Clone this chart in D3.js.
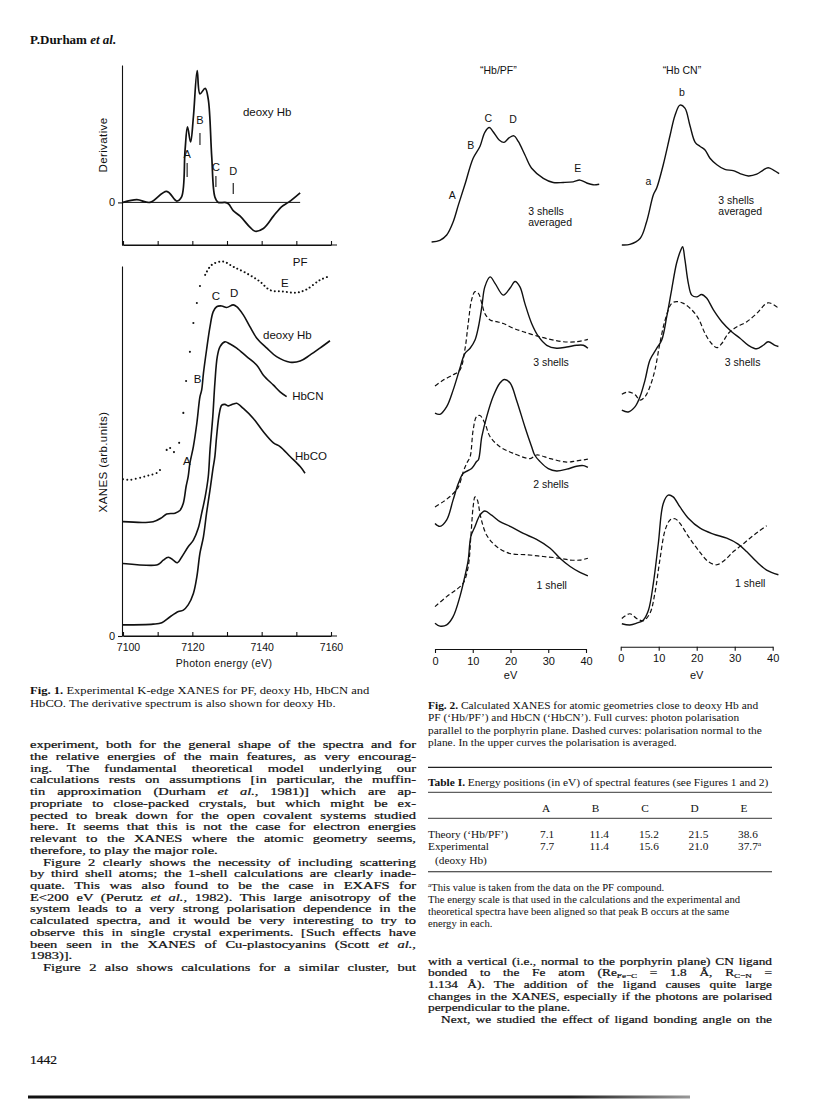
<!DOCTYPE html>
<html>
<head>
<meta charset="utf-8">
<script src="https://cdn.jsdelivr.net/npm/d3@7"></script>
<style>
  body { margin: 0; background: #fff; }
  svg { display: block; }
  .serif { font-family: "Liberation Serif", "Times New Roman", serif; fill: #111; }
  .heavy .serif { stroke: #111; stroke-width: 0.22px; }
  .sans { font-family: "Liberation Sans", Arial, sans-serif; fill: #111; }
</style>
</head>
<body>
<svg id="page" width="816" height="1113"></svg>
<script>
// ---- Fig. 1 data (photon energy in eV, arbitrary units) ----
var derivDeoxy = [[7100,0],[7104,0.02],[7107.8,0],[7112.6,0.08],[7115.5,0.01],[7116.9,0.04],
  [7117.9,0.38],[7118.6,0.55],[7119.5,0.44],[7120.3,0.62],[7121.4,0.96],[7122.2,0.79],
  [7123.7,0.83],[7124.6,0.75],[7125.6,0.33],[7126.5,0.04],[7127.5,0],[7129.4,0],
  [7130.4,-0.01],[7131.8,-0.06],[7133.8,-0.10],[7136.6,-0.18],[7138.1,-0.21],[7140.5,-0.19],
  [7143.4,-0.10],[7145.8,-0.03],[7147.7,0],[7151.1,0.07]];

var derivMarks = [
  {t:"A", e:7118.5, lo:0.185, hi:0.287, lab:0.323},
  {t:"B", e:7122.2, lo:0.418, hi:0.506, lab:0.572},
  {t:"C", e:7126.8, lo:0.113, hi:0.193, lab:0.232},
  {t:"D", e:7131.8, lo:0.061, hi:0.141, lab:0.196}];

var xanesDeoxy = [[7100,0.309],[7108.7,0.309],[7111.2,0.320],[7112.6,0.330],[7115.0,0.332],
  [7116.4,0.339],[7117.4,0.359],[7118.2,0.404],[7118.8,0.431],[7119.3,0.467],[7120.3,0.512],
  [7121.3,0.575],[7122.2,0.647],[7122.7,0.665],[7123.2,0.710],[7124.1,0.773],[7125.1,0.836],
  [7126.0,0.876],[7127.0,0.890],[7128.5,0.892],[7129.9,0.888],[7131.8,0.895],[7132.8,0.890],
  [7134.7,0.868],[7136.6,0.836],[7138.6,0.805],[7141.5,0.778],[7144.3,0.755],[7148.2,0.740],
  [7151.1,0.743],[7153.9,0.759],[7156.8,0.778],[7159.7,0.798]];

var xanesHbCN = [[7100,0.196],[7109.7,0.192],[7110.7,0.197],[7111.6,0.205],[7113.1,0.213],
  [7114.5,0.205],[7115.7,0.198],[7116.9,0.213],[7118.8,0.241],[7120.3,0.259],[7121.7,0.291],
  [7122.7,0.332],[7123.7,0.376],[7124.6,0.431],[7125.1,0.503],[7125.9,0.593],[7126.5,0.683],
  [7127.2,0.755],[7128.0,0.782],[7129.4,0.795],[7130.9,0.789],[7132.8,0.778],[7135.7,0.755],
  [7138.6,0.732],[7140.5,0.705],[7143.4,0.678],[7145.3,0.660],[7147.2,0.647]];

var xanesHbCO = [[7100,0.030],[7108.7,0.032],[7111.2,0.036],[7113.6,0.052],[7116.0,0.066],
  [7117.4,0.070],[7118.8,0.084],[7120.3,0.115],[7121.3,0.160],[7122.2,0.224],[7123.2,0.268],
  [7124.1,0.332],[7125.1,0.395],[7125.9,0.449],[7126.5,0.485],[7127.0,0.539],[7127.8,0.602],
  [7128.5,0.624],[7129.4,0.626],[7130.4,0.622],[7131.8,0.627],[7132.8,0.629],[7134.7,0.615],
  [7137.6,0.588],[7140.5,0.552],[7143.4,0.522],[7145.3,0.512],[7148.2,0.485],[7151.1,0.458],
  [7152.5,0.440]];

var pfLow = [[7100,0.424],[7102,0.422],[7105.8,0.430],[7107.8,0.435],[7109.8,0.441],[7110.7,0.449]];
var pfEdge = [[7112.6,0.503],[7113.6,0.508],[7114.7,0.497],[7116.2,0.522],[7117.4,0.603],
  [7118.2,0.689],[7119.3,0.768],[7120.3,0.846],[7121.3,0.900],[7122.2,0.946]];
var pfTop = [[7123.7,0.976],[7125.6,1.003],[7128.9,1.012],[7131.8,0.998],[7135.7,0.980],
  [7139.5,0.958],[7142.4,0.935],[7146.2,0.931],[7150.1,0.928],[7153.0,0.937],[7156.8,0.962],
  [7159.7,0.973]];

var xanesLabels = [
  {t:"PF", e:7149.0, v:1.0, a:"start"}, {t:"E", e:7146.7, v:0.943, a:"middle"},
  {t:"C", e:7126.8, v:0.908, a:"middle"}, {t:"D", e:7132.1, v:0.915, a:"middle"},
  {t:"B", e:7121.5, v:0.684, a:"middle"}, {t:"A", e:7118.4, v:0.461, a:"middle"},
  {t:"deoxy Hb", e:7140.4, v:0.803, a:"start"}, {t:"HbCN", e:7148.8, v:0.638, a:"start"},
  {t:"HbCO", e:7149.6, v:0.477, a:"start"}];

var fig1Ticks = [7100, 7110, 7120, 7130, 7140, 7150, 7160];
var fig1TickLabels = [7100, 7120, 7140, 7160];

// ---- Fig. 2 data (eV, arbitrary intensity) ----
var pfAvg = [[-0.9,68.3],[1.3,68.6],[3.1,69.5],[4.8,71.7],[6.2,74.6],[7.9,78.0],[10.1,82.5],
  [11.9,84.5],[13.2,86.9],[14.4,87.7],[15.4,87.0],[17.0,85.6],[18.3,85.2],[19.7,86.0],
  [20.9,86.3],[22.1,85.3],[23.8,83.1],[25.6,80.8],[28.7,79.1],[31.3,78.4],[34.0,78.4],
  [36.6,78.5],[38.4,78.8],[40.2,78.3],[41.9,78.0],[43.5,78.1]];
var cnAvg = [[0.3,67.8],[2.4,67.9],[5.1,68.9],[6.8,71.7],[8.6,76.3],[9.5,77.5],[11.2,81.4],
  [13.0,86.4],[14.3,89.8],[15.6,91.5],[16.9,91.0],[18.2,88.1],[19.6,85.2],[20.9,84.5],
  [22.2,83.9],[23.5,82.5],[25.3,81.4],[27.4,80.6],[29.6,80.4],[31.4,79.9],[33.6,79.5],
  [35.8,79.8],[37.5,80.5],[38.8,80.9],[40.2,80.5],[41.7,79.9]];
var pf3Par = [[0,39.3],[1.3,39.1],[3.1,40.4],[4.8,43.2],[6.6,46.9],[7.9,49.4],[9.3,50.3],
  [10.6,51.7],[11.5,53.9],[12.4,57.3],[13.2,60.7],[14.6,62.4],[15.9,61.3],[18.1,59.3],
  [19.9,60.5],[21.2,61.6],[22.5,60.7],[23.8,57.9],[25.6,54.5],[27.4,52.3],[29.6,50.8],
  [32.2,50.3],[34.9,50.5],[37.5,50.8],[39.3,50.8],[40.5,50.3]];
var pf3Norm = [[0,43.9],[2.2,44.9],[4.8,45.8],[6.6,46.6],[7.9,50.0],[8.8,54.5],[9.7,58.5],
  [10.6,59.9],[11.5,59.6],[12.4,57.9],[13.2,56.2],[14.6,55.1],[16.3,54.8],[18.1,54.5],
  [20.7,53.7],[23.4,53.1],[26.9,52.4],[30.5,51.8],[34.0,51.4],[37.5,51.4],[40.5,51.8]];
var cn3Par = [[0.3,39.8],[2.0,39.5],[3.8,40.4],[5.1,42.1],[6.4,44.9],[7.7,48.3],[9.5,50.3],
  [10.8,51.7],[12.1,55.6],[13.4,60.2],[14.7,64.7],[15.8,66.9],[16.3,67.5],[16.9,65.3],
  [17.8,61.3],[18.7,59.3],[20.0,59.0],[21.3,59.4],[22.6,58.8],[24.4,56.8],[26.6,54.8],
  [29.2,53.1],[31.4,52.0],[33.6,50.8],[35.8,50.2],[37.5,50.8],[38.8,51.4],[40.6,50.8],
  [41.5,50.6]];
var cn3Norm = [[0.3,42.5],[2.0,42.9],[3.8,42.4],[5.1,41.5],[6.4,42.1],[7.7,43.8],[9.0,46.6],
  [10.3,51.1],[11.7,55.1],[13.4,57.9],[14.7,58.2],[16.5,57.9],[18.7,56.8],[20.4,55.4],
  [22.2,52.8],[23.9,51.1],[25.3,50.4],[26.6,51.1],[28.3,52.8],[30.5,53.9],[33.2,54.8],
  [35.8,56.2],[38.8,58.0],[41.5,57.1]];
var pf2Par = [[0,20.6],[1.3,20.1],[3.1,21.2],[4.8,24.6],[6.2,27.4],[7.5,29.1],[9.7,29.9],
  [11.0,31.1],[11.5,31.4],[12.4,35.3],[13.7,38.7],[15.4,42.1],[17.2,44.4],[18.4,45.0],
  [19.9,44.4],[21.6,41.5],[23.8,37.0],[25.6,33.6],[26.4,32.2],[27.8,31.1],[30.0,29.9],
  [32.2,29.5],[34.9,29.8],[37.5,30.3],[39.3,30.4],[40.5,30.1]];
var pf2Norm = [[0,23.4],[2.2,24.3],[4.4,25.4],[6.2,26.8],[7.5,29.4],[8.4,30.8],[9.3,31.9],
  [10.1,36.4],[11.0,38.7],[11.9,38.9],[13.2,37.6],[14.6,35.3],[17.2,33.6],[20.7,32.5],
  [25.2,31.6],[26.9,32.2],[30.5,31.6],[34.9,31.0],[37.5,31.2],[40.5,31.5]];
var pf1Par = [[0,3.7],[1.3,3.2],[3.1,3.4],[4.8,4.8],[6.6,8.2],[7.9,11.6],[8.8,14.4],[9.5,18.4],
  [10.6,20.1],[11.9,22.0],[13.2,22.7],[15.0,22.0],[17.2,20.9],[19.9,20.1],[23.4,18.9],
  [26.9,17.9],[30.5,16.4],[33.1,14.7],[35.8,13.3],[38.4,12.3],[40.5,11.7]];
var pf1Norm = [[0,6.5],[3.1,8.2],[5.7,9.4],[7.5,10.5],[8.8,13.3],[9.5,18.4],[10.1,23.4],
  [10.6,25.1],[11.2,24.6],[12.1,21.7],[13.7,18.6],[16.3,16.7],[19.9,15.5],[24.3,15.3],
  [28.7,15.0],[33.1,14.7],[35.8,14.4],[38.4,14.4],[40.5,14.7]];
var cn1Par = [[0.3,3.6],[2.4,3.4],[4.2,3.7],[5.9,4.2],[7.3,5.9],[8.6,10.5],[9.9,17.2],
  [11.2,24.0],[12.5,25.4],[13.8,25.1],[15.6,23.4],[17.8,21.5],[20.9,19.8],[24.4,18.8],
  [27.9,18.1],[30.9,17.1],[33.2,15.8],[35.8,14.1],[38.4,12.7],[41.5,11.9]];
var cn1Norm = [[0.3,4.5],[2.4,5.3],[4.2,4.5],[5.9,4.1],[7.7,5.4],[9.0,8.8],[10.3,14.4],
  [11.7,19.5],[13.0,21.2],[14.3,21.4],[15.6,20.6],[17.8,18.4],[20.4,16.1],[23.1,14.1],
  [25.3,13.6],[27.4,14.4],[29.6,15.8],[31.8,16.9],[34.0,18.1],[36.2,19.2],[38.4,20.2]];

var leftLabels = [
  {t:"\u201CHb/PF\u201D", e:16.8, v:96.8, a:"middle"},
  {t:"A", e:4.6, v:75.6, a:"middle"}, {t:"B", e:9.5, v:84.1, a:"middle"},
  {t:"C", e:14.1, v:88.7, a:"middle"}, {t:"D", e:20.7, v:88.4, a:"middle"},
  {t:"E", e:37.8, v:80.2, a:"middle"},
  {t:"3 shells", e:24.7, v:72.9, a:"start"}, {t:"averaged", e:24.7, v:71.0, a:"start"},
  {t:"3 shells", e:26.0, v:47.3, a:"start"}, {t:"2 shells", e:26.0, v:26.6, a:"start"},
  {t:"1 shell", e:26.9, v:9.5, a:"start"}];
var rightLabels = [
  {t:"\u201CHb CN\u201D", e:16.1, v:96.8, a:"middle"},
  {t:"a", e:7.3, v:77.9, a:"middle"}, {t:"b", e:16.1, v:93.1, a:"middle"},
  {t:"3 shells", e:25.7, v:74.7, a:"start"}, {t:"averaged", e:25.7, v:72.8, a:"start"},
  {t:"3 shells", e:27.4, v:47.3, a:"start"}, {t:"1 shell", e:30.1, v:9.9, a:"start"}];
var fig2Ticks = [0, 10, 20, 30, 40];

// ---- table ----
var tableCols = ["A", "B", "C", "D", "E"];
var theoryVals = ["7.1", "11.4", "15.2", "21.5", "38.6"];
var exptVals = ["7.7", "11.4", "15.6", "21.0", "37.7^a^"];

// ---- text ----
var fig1Caption = [
  "*Fig.* *1.* Experimental K-edge XANES for PF, deoxy Hb, HbCN and",
  "HbCO. The derivative spectrum is also shown for deoxy Hb."];
var fig2Caption = [
  "*Fig.* *2.* Calculated XANES for atomic geometries close to deoxy Hb and",
  "PF (\u2018Hb/PF\u2019) and HbCN (\u2018HbCN\u2019). Full curves: photon polarisation",
  "parallel to the porphyrin plane. Dashed curves: polarisation normal to the",
  "plane. In the upper curves the polarisation is averaged."];
var footnotes = [
  "^a^This value is taken from the data on the PF compound.",
  "The energy scale is that used in the calculations and the experimental and",
  "theoretical spectra have been aligned so that peak B occurs at the same",
  "energy in each."];
var leftText = [
  "experiment, both for the general shape of the spectra and for",
  "the relative energies of the main features, as very encourag-",
  "ing. The fundamental theoretical model underlying our",
  "calculations rests on assumptions [in particular, the muffin-",
  "tin approximation (Durham _et al._, 1981)] which are ap-",
  "propriate to close-packed crystals, but which might be ex-",
  "pected to break down for the open covalent systems studied",
  "here. It seems that this is not the case for electron energies",
  "relevant to the XANES where the atomic geometry seems,",
  "therefore, to play the major role.",
  "Figure 2 clearly shows the necessity of including scattering",
  "by third shell atoms; the 1-shell calculations are clearly inade-",
  "quate. This was also found to be the case in EXAFS for",
  "E<200 eV (Perutz _et al._, 1982). This large anisotropy of the",
  "system leads to a very strong polarisation dependence in the",
  "calculated spectra, and it would be very interesting to try to",
  "observe this in single crystal experiments. [Such effects have",
  "been seen in the XANES of Cu-plastocyanins (Scott _et al._,",
  "1983)].",
  "Figure 2 also shows calculations for a similar cluster, but"];
var leftIndent = [10, 19];
var leftRagged = [9, 18];
var rightText = [
  "with a vertical (i.e., normal to the porphyrin plane) CN ligand",
  "bonded to the Fe atom (Re~Fe\u2212C~ = 1.8 \u00C5, R~C\u2212N~ =",
  "1.134 \u00C5). The addition of the ligand causes quite large",
  "changes in the XANES, especially if the photons are polarised",
  "perpendicular to the plane.",
  "Next, we studied the effect of ligand bonding angle on the"];
var rightIndent = [5];
var rightRagged = [4];

// ---------------------------------------------------------------
var svg = d3.select("#page");
svg.append("rect").attr("width", 816).attr("height", 1113).attr("fill", "#fff");
var bodyLayer = svg.append("g").attr("class", "heavy");

function rich(g, str, x, y, size, weight) {
  // _italic_  *bold*  ^sup^  ~sub~
  var t = g.append("text").attr("class", "serif").attr("x", x).attr("y", y)
    .style("font-size", size + "px");
  if (weight) t.style("font-weight", weight);
  var italic = false, bold = false, mode = 0, buf = "", shift = 0;
  function flush() {
    if (!buf) return;
    var ts = t.append("tspan").text(buf);
    if (italic) ts.style("font-style", "italic");
    if (bold) ts.style("font-weight", "bold");
    var target = mode === 1 ? -size * 0.38 : (mode === -1 ? size * 0.2 : 0);
    ts.attr("dy", target - shift);
    shift = target;
    if (mode !== 0) ts.style("font-size", (size * 0.68) + "px");
    buf = "";
  }
  for (var i = 0; i < str.length; i++) {
    var ch = str[i];
    if (ch === "_") { flush(); italic = !italic; }
    else if (ch === "*") { flush(); bold = !bold; }
    else if (ch === "^") { flush(); mode = mode === 1 ? 0 : 1; }
    else if (ch === "~") { flush(); mode = mode === -1 ? 0 : -1; }
    else buf += ch;
  }
  flush();
  return t;
}

// one text line, horizontally stretched by sx (the scan is wider than tall),
// optionally justified between x0 and x1 through word-spacing
function textLine(str, x0, x1, y, size, justify, sx, anchor, layer) {
  var g = (layer || svg).append("g")
    .attr("transform", "translate(" + x0 + "," + y + ") scale(" + sx + ",1)");
  var t = rich(g, str, 0, 0, size);
  if (anchor) t.attr("text-anchor", anchor);
  if (justify) {
    var plain = str.replace(/[_*^~]/g, "");
    var ns = (plain.match(/ /g) || []).length;
    var nat = t.node().getComputedTextLength();
    var avail = (x1 - x0) / sx;
    if (ns) t.style("word-spacing", Math.max(0, (avail - nat) / ns) + "px");
  }
  return t;
}

function curve(data, xs, ys, opts) {
  opts = opts || {};
  var p = svg.append("path").datum(data)
    .attr("fill", "none").attr("stroke", "#111")
    .attr("stroke-width", opts.w || 1.3)
    .attr("stroke-linejoin", "round")
    .attr("d", d3.line()
      .x(function(d) { return xs(d[0]); })
      .y(function(d) { return ys(d[1]); })
      .curve(d3.curveCatmullRom.alpha(0.5)));
  if (opts.dash) p.attr("stroke-dasharray", opts.dash);
  if (opts.cap) p.attr("stroke-linecap", opts.cap);
  return p;
}

function labels(list, xs, ys, size) {
  list.forEach(function(d) {
    svg.append("text").attr("class", "sans")
      .attr("x", xs(d.e)).attr("y", ys(d.v))
      .attr("text-anchor", d.a)
      .style("font-size", size + "px")
      .text(d.t);
  });
}

function styleAxis(g, size) {
  g.selectAll("path, line").attr("stroke", "#111").attr("stroke-width", 1.1);
  g.selectAll("text").attr("class", "sans").attr("fill", "#111")
    .style("font-size", size + "px").attr("font-family", null);
}

// ---- header ----
rich(svg, "P.Durham *_et_ _al._*", 30, 44, 13, "bold");

// ---- Fig. 1 ----
var x1 = d3.scaleLinear().domain([7100, 7160]).range([123, 331]);
var yD = d3.scaleLinear().domain([-0.31, 1.0]).range([245, 65]);
var yX = d3.scaleLinear().domain([0, 1]).range([636, 266]);
var fmt0 = d3.format("d");

// derivative panel axes
var gDy = svg.append("g").attr("transform", "translate(122,0)")
  .call(d3.axisLeft(yD).tickValues([0]).tickSize(4).tickSizeOuter(0).tickFormat(fmt0));
styleAxis(gDy, 11);
var gDx = svg.append("g").attr("transform", "translate(0," + yD.range()[0] + ")")
  .call(d3.axisBottom(x1).tickValues(fig1Ticks).tickSize(-4).tickSizeOuter(0).tickFormat(""));
styleAxis(gDx, 10);
svg.append("line").attr("x1", 122).attr("x2", 337)
  .attr("y1", yD.range()[0]).attr("y2", yD.range()[0])
  .attr("stroke", "#111").attr("stroke-width", 1.1);
// zero line
svg.append("line").attr("x1", 122).attr("x2", x1(7151.1))
  .attr("y1", yD(0)).attr("y2", yD(0)).attr("stroke", "#111").attr("stroke-width", 1);
curve(derivDeoxy, x1, yD, {w: 1.7});
derivMarks.forEach(function(m) {
  svg.append("line").attr("x1", x1(m.e)).attr("x2", x1(m.e))
    .attr("y1", yD(m.lo)).attr("y2", yD(m.hi)).attr("stroke", "#111").attr("stroke-width", 1.1);
});
labels(derivMarks.map(function(m) { return {t: m.t, e: m.e, v: m.lab, a: "middle"}; }), x1, yD, 11);
labels([{t: "deoxy Hb", e: 7134.6, v: 0.629, a: "start"}], x1, yD, 11.5);
svg.append("text").attr("class", "sans").attr("transform", "translate(107,145) rotate(-90)")
  .attr("text-anchor", "middle").style("font-size", "11.5px").style("letter-spacing", "0.4px")
  .text("Derivative");

// XANES panel axes
var gXy = svg.append("g").attr("transform", "translate(122,0)")
  .call(d3.axisLeft(yX).tickValues([0]).tickSize(4).tickSizeOuter(0).tickFormat(fmt0));
styleAxis(gXy, 11);
var gXx = svg.append("g").attr("transform", "translate(0," + yX.range()[0] + ")")
  .call(d3.axisBottom(x1).tickValues(fig1Ticks).tickSize(-4).tickSizeOuter(0)
    .tickFormat(function(d) { return fig1TickLabels.indexOf(d) >= 0 ? d : ""; }));
styleAxis(gXx, 10.5);
gXx.selectAll(".tick text").attr("y", 8);
gXx.selectAll(".tick").filter(function(d) { return d === 7100; }).select("text").attr("dx", 5);
svg.append("line").attr("x1", 122).attr("x2", 337)
  .attr("y1", yX.range()[0]).attr("y2", yX.range()[0])
  .attr("stroke", "#111").attr("stroke-width", 1.1);
svg.append("text").attr("class", "sans").attr("x", 224).attr("y", 667)
  .attr("text-anchor", "middle").style("font-size", "10.5px").style("letter-spacing", "0.3px")
  .text("Photon energy (eV)");
svg.append("text").attr("class", "sans").attr("transform", "translate(107,462) rotate(-90)")
  .attr("text-anchor", "middle").style("font-size", "11.5px").style("letter-spacing", "0.4px")
  .text("XANES (arb.units)");

curve(xanesDeoxy, x1, yX, {w: 1.6});
curve(xanesHbCN, x1, yX, {w: 1.6});
curve(xanesHbCO, x1, yX, {w: 1.6});
curve(pfLow, x1, yX, {w: 2, dash: "0.01,4.3", cap: "round"});
curve(pfTop, x1, yX, {w: 2, dash: "0.01,4.0", cap: "round"});
svg.selectAll(".pfdot").data(pfEdge).enter().append("circle")
  .attr("cx", function(d) { return x1(d[0]); })
  .attr("cy", function(d) { return yX(d[1]); })
  .attr("r", 1.05).attr("fill", "#111");
labels(xanesLabels, x1, yX, 11.5);

// ---- Fig. 2 ----
var xL = d3.scaleLinear().domain([0, 40]).range([435, 586]);
var xR = d3.scaleLinear().domain([0, 40]).range([620.7, 772.7]);
var y2 = d3.scaleLinear().domain([0, 100]).range([645, 55]);

[[xL, 649], [xR, 646.7]].forEach(function(a) {
  var g = svg.append("g").attr("transform", "translate(0," + a[1] + ")")
    .call(d3.axisBottom(a[0]).tickValues(fig2Ticks).tickSize(4).tickSizeOuter(0));
  styleAxis(g, 11);
  g.selectAll(".tick text").attr("y", 8);
  svg.append("text").attr("class", "sans").attr("x", a[0](20)).attr("y", 679)
    .attr("text-anchor", "middle").style("font-size", "11px").text("eV");
});

var dash = "4.5,2.6";
curve(pfAvg, xL, y2, {w: 1.4});
curve(cnAvg, xR, y2, {w: 1.4});
curve(pf3Par, xL, y2, {w: 1.4});
curve(pf3Norm, xL, y2, {w: 1.2, dash: dash});
curve(cn3Par, xR, y2, {w: 1.4});
curve(cn3Norm, xR, y2, {w: 1.2, dash: dash});
curve(pf2Par, xL, y2, {w: 1.4});
curve(pf2Norm, xL, y2, {w: 1.2, dash: dash});
curve(pf1Par, xL, y2, {w: 1.4});
curve(pf1Norm, xL, y2, {w: 1.2, dash: dash});
curve(cn1Par, xR, y2, {w: 1.4});
curve(cn1Norm, xR, y2, {w: 1.2, dash: dash});
labels(leftLabels, xL, y2, 10.5);
labels(rightLabels, xR, y2, 10.5);

// ---- captions ----
fig1Caption.forEach(function(s, i) { textLine(s, 30, 416, 694 + i * 12.8, 10, false, 1.26); });
fig2Caption.forEach(function(s, i) { textLine(s, 428, 772, 708.5 + i * 12.6, 10, false, 1.14); });

// ---- table ----
function rule(y, w) {
  svg.append("line").attr("x1", 428).attr("x2", 772).attr("y1", y).attr("y2", y)
    .attr("stroke", "#222").attr("stroke-width", w);
}
rule(767.3, 1.2); rule(792.3, 0.9); rule(818.3, 0.9); rule(871.7, 1.1);
textLine("*Table* *I.* Energy positions (in eV) of spectral features (see Figures 1 and 2)",
  428, 772, 786.3, 10.2, false, 1.12);
var colX = d3.scalePoint().domain(tableCols).range([546, 744]);
tableCols.forEach(function(c) {
  textLine(c, colX(c), colX(c), 811.5, 10.3, false, 1.1, "middle");
});
textLine("Theory (\u2018Hb/PF\u2019)", 428, 772, 837.5, 10.3, false, 1.1);
textLine("Experimental", 428, 772, 850.2, 10.3, false, 1.1);
textLine("(deoxy Hb)", 435, 772, 863.5, 10.3, false, 1.1);
tableCols.forEach(function(c, i) {
  textLine(theoryVals[i], colX(c) - 6, 772, 837.5, 10.3, false, 1.1);
  textLine(exptVals[i], colX(c) - 6, 772, 850.2, 10.3, false, 1.1);
});
footnotes.forEach(function(s, i) { textLine(s, 428, 772, 890.5 + i * 12.2, 9.5, false, 1.12); });

// ---- body text (the scan prints it darker) ----
leftText.forEach(function(s, i) {
  var ind = leftIndent.indexOf(i) >= 0 ? 13 : 0;
  textLine(s, 30 + ind, 416, 748.2 + i * 11.73, 10.5, leftRagged.indexOf(i) < 0, 1.38, null, bodyLayer);
});
rightText.forEach(function(s, i) {
  var ind = rightIndent.indexOf(i) >= 0 ? 13 : 0;
  textLine(s, 428 + ind, 772, 964.5 + i * 11.73, 10.5, rightRagged.indexOf(i) < 0, 1.27, null, bodyLayer);
});

// ---- footer ----
rich(bodyLayer, "1442", 30, 1064, 13.5);
var grad = svg.append("defs").append("linearGradient").attr("id", "fade");
grad.append("stop").attr("offset", "0%").attr("stop-color", "#111");
grad.append("stop").attr("offset", "82%").attr("stop-color", "#222");
grad.append("stop").attr("offset", "100%").attr("stop-color", "#999");
svg.append("rect").attr("x", 28).attr("y", 1095.5).attr("width", 662).attr("height", 3)
  .attr("fill", "url(#fade)");
</script>
</body>
</html>
